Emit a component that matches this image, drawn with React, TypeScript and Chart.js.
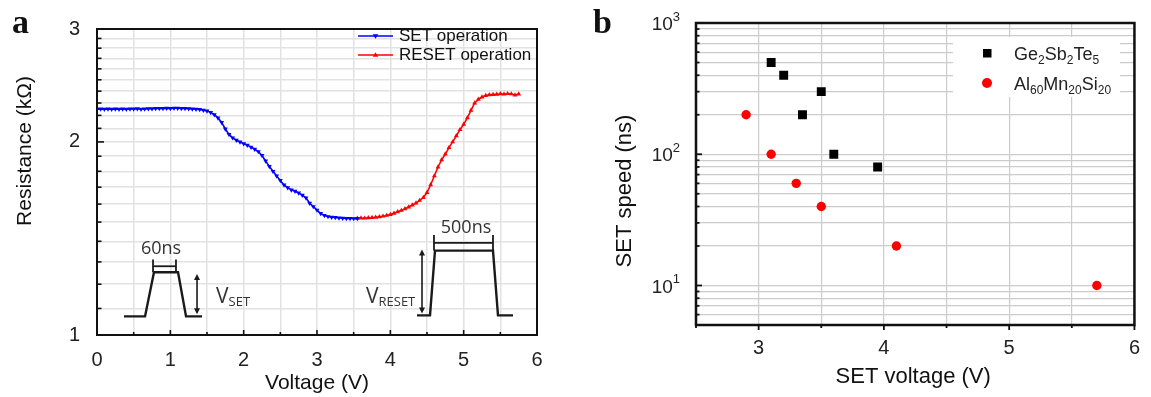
import React, { useEffect, useRef } from "react";
import { Chart, registerables } from "chart.js";

Chart.register(...registerables);

// ---------- Panel a data ----------
const setVoltage = [
  0.0, 0.05, 0.1, 0.15, 0.2, 0.25, 0.3, 0.35, 0.4, 0.45, 0.5, 0.55, 0.6, 0.65,
  0.7, 0.75, 0.8, 0.85, 0.9, 0.95, 1.0, 1.05, 1.1, 1.15,
  1.2, 1.25, 1.3, 1.35, 1.4, 1.45, 1.5, 1.55,
  1.6, 1.65, 1.7, 1.75, 1.8, 1.85, 1.9, 1.95,
  2.0, 2.05, 2.1, 2.15, 2.2, 2.25, 2.3, 2.35,
  2.4, 2.45, 2.5, 2.55, 2.6, 2.65, 2.7, 2.75,
  2.8, 2.85, 2.9, 2.95, 3.0, 3.05, 3.1, 3.15,
  3.2, 3.25, 3.3, 3.35, 3.4, 3.45, 3.5, 3.55,
];
const setResistance = [
  2.25, 2.252, 2.249, 2.251, 2.25, 2.252, 2.25, 2.251, 2.249, 2.252, 2.251, 2.253, 2.25, 2.252,
  2.254, 2.253, 2.255, 2.256, 2.255, 2.257, 2.256, 2.258, 2.257, 2.256,
  2.255, 2.254, 2.252, 2.25, 2.247, 2.242, 2.235, 2.224,
  2.205, 2.18, 2.145, 2.095, 2.055, 2.03, 2.012, 2.0,
  1.988, 1.977, 1.963, 1.948, 1.932, 1.905, 1.868, 1.832,
  1.8, 1.77, 1.742, 1.714, 1.697, 1.684, 1.676, 1.665,
  1.652, 1.636, 1.605, 1.586, 1.566, 1.547, 1.536, 1.53,
  1.527, 1.525, 1.523, 1.521, 1.52, 1.52, 1.519, 1.52,
];
const resetVoltage = [
  3.55, 3.6, 3.65, 3.7, 3.75, 3.8, 3.85, 3.9,
  3.95, 4.0, 4.05, 4.1, 4.15, 4.2, 4.25, 4.3,
  4.35, 4.4, 4.45, 4.5, 4.55, 4.6, 4.65, 4.7,
  4.75, 4.8, 4.85, 4.9, 4.95, 5.0, 5.05, 5.1,
  5.15, 5.2, 5.25, 5.3, 5.35, 5.4, 5.45, 5.5,
  5.55, 5.6, 5.65, 5.7, 5.75,
];
const resetResistance = [
  1.52, 1.522, 1.521, 1.523, 1.524, 1.526, 1.529, 1.532,
  1.536, 1.541, 1.548, 1.556, 1.564, 1.573, 1.583, 1.594,
  1.606, 1.621, 1.638, 1.668, 1.715, 1.77, 1.828, 1.875,
  1.915, 1.96, 2.0, 2.045, 2.09, 2.13, 2.18, 2.24,
  2.3, 2.33, 2.35, 2.362, 2.368, 2.37, 2.372, 2.377,
  2.374, 2.378, 2.376, 2.366, 2.375,
];
const aXTickLabels = [0, 1, 2, 3, 4, 5, 6];
const aYTickLabels = [1, 2, 3];

// ---------- Panel b data ----------
const gstVoltage = [3.1, 3.2, 3.35, 3.5, 3.6, 3.95];
const gstSpeed = [500, 400, 200, 300, 100, 80];
const amsVoltage = [2.9, 3.1, 3.3, 3.5, 4.1, 5.7];
const amsSpeed = [200, 100, 60, 40, 20, 10];
const bXTickLabels = [3, 4, 5, 6];
const bYTickLabels = [10, 100, 1000];

const FONT = '"Liberation Sans", Arial, sans-serif';
const INSET_FONT = '"Open Sans", "DejaVu Sans", sans-serif';

// grid positions (axis minor ticks)
const aXGrid: number[] = [];
for (let i = 0; i <= 12; i++) aXGrid.push(i / 2);
const aYGrid: number[] = [];
for (let i = 10; i <= 30; i++) aYGrid.push(i / 10);
const bXGrid: number[] = [];
for (let i = 5; i <= 12; i++) bXGrid.push(i / 2);
const bYGrid: number[] = [];
for (let e = 0; e < 3; e++) for (let m = 1; m < 10; m++) { const v = m * Math.pow(10, e); if (v >= 5) bYGrid.push(v); }
bYGrid.push(1000);

// inset pulse drawings, in axis units of panel a (decoration)
const setPulse = { v: [0.368, 0.655, 0.777, 1.105, 1.214, 1.432], r: [1.069, 1.069, 1.253, 1.253, 1.069, 1.069] };
const resetPulse = { v: [4.364, 4.541, 4.609, 5.4, 5.468, 5.673], r: [1.073, 1.073, 1.354, 1.354, 1.073, 1.073] };

function line(ctx: CanvasRenderingContext2D, x1: number, y1: number, x2: number, y2: number) {
  ctx.beginPath(); ctx.moveTo(x1, y1); ctx.lineTo(x2, y2); ctx.stroke();
}
function arrowHead(ctx: CanvasRenderingContext2D, x: number, y: number, up: boolean) {
  const d = up ? 1 : -1;
  ctx.beginPath(); ctx.moveTo(x, y); ctx.lineTo(x - 3, y + 6 * d); ctx.lineTo(x + 3, y + 6 * d); ctx.closePath(); ctx.fill();
}
function tri(ctx: CanvasRenderingContext2D, x: number, y: number, r: number, down: boolean) {
  ctx.beginPath();
  if (down) { ctx.moveTo(x - r, y - r * 0.6); ctx.lineTo(x + r, y - r * 0.6); ctx.lineTo(x, y + r); }
  else { ctx.moveTo(x - r, y + r * 0.6); ctx.lineTo(x + r, y + r * 0.6); ctx.lineTo(x, y - r); }
  ctx.closePath(); ctx.fill();
}
function subText(ctx: CanvasRenderingContext2D, parts: [string, boolean][], x: number, y: number, size: number, subSize: number, subDrop: number, family: string) {
  let cx = x;
  ctx.textAlign = "left"; ctx.textBaseline = "alphabetic";
  for (const [t, sub] of parts) {
    ctx.font = `${sub ? subSize : size}px ${family}`;
    ctx.fillText(t, cx, sub ? y + subDrop : y);
    cx += ctx.measureText(t).width;
  }
}

const decorA = {
  id: "decorA",
  afterDraw(chart: any) {
    const { ctx, chartArea: ca } = chart;
    const xs = chart.scales.x, ys = chart.scales.y;
    ctx.save();
    // frame
    ctx.strokeStyle = "#111"; ctx.lineWidth = 2;
    ctx.strokeRect(ca.left, ca.top, ca.right - ca.left, ca.bottom - ca.top);
    // inward ticks
    ctx.lineWidth = 1.6;
    for (const v of aYGrid) {
      const y = ys.getPixelForValue(v);
      const len = aYTickLabels.includes(v) ? 7 : 4.5;
      line(ctx, ca.left, y, ca.left + len, y);
    }
    for (const v of aXGrid) {
      const x = xs.getPixelForValue(v);
      const len = aXTickLabels.includes(v) ? 5 : 3;
      line(ctx, x, ca.bottom, x, ca.bottom - len);
    }
    // axis titles
    ctx.fillStyle = "#111";
    ctx.font = `21px ${FONT}`;
    ctx.textAlign = "center"; ctx.textBaseline = "middle";
    ctx.fillText("Voltage (V)", (ca.left + ca.right) / 2, 383);
    ctx.save(); ctx.translate(25, 151); ctx.rotate(-Math.PI / 2);
    ctx.fillText("Resistance (k\u03A9)", 0, 0); ctx.restore();
    // panel letter
    ctx.font = `bold 34px "Liberation Serif", "Times New Roman", serif`;
    ctx.textAlign = "left"; ctx.textBaseline = "alphabetic";
    ctx.fillText("a", 12, 33);
    // legend
    const leg = [["SET operation", "#0000ff", true, 36], ["RESET operation", "#ff0000", false, 55]] as const;
    for (const [label, col, down, ly] of leg) {
      ctx.strokeStyle = col; ctx.fillStyle = col; ctx.lineWidth = 1.5;
      line(ctx, 358, ly, 393, ly);
      tri(ctx, 375.5, ly, 2.8, down);
      ctx.fillStyle = "#111"; ctx.font = `17px ${FONT}`;
      ctx.textAlign = "left"; ctx.textBaseline = "middle";
      ctx.fillText(label, 399, ly);
    }
    // insets
    ctx.strokeStyle = "#1a1a1a"; ctx.fillStyle = "#1a1a1a"; ctx.lineWidth = 2.4;
    const px = (v: number) => xs.getPixelForValue(v);
    const py = (r: number) => ys.getPixelForValue(r);
    for (const p of [setPulse, resetPulse]) {
      ctx.beginPath();
      p.v.forEach((v, i) => { const X = px(v), Y = py(p.r[i]); if (i === 0) ctx.moveTo(X, Y); else ctx.lineTo(X, Y); });
      ctx.stroke();
    }
    ctx.lineWidth = 1.8;
    // 60ns bracket
    const s1 = px(0.764), s2 = px(1.077), sTop = py(1.311), sBot = py(1.253), sMid = py(1.28);
    line(ctx, s1, sTop, s1, sBot); line(ctx, s2, sTop, s2, sBot); line(ctx, s1, sMid, s2, sMid);
    // 500ns bracket
    const r1 = px(4.595), r2 = px(5.4), rTop = py(1.432), rBot = py(1.354), rMid = py(1.392);
    line(ctx, r1, rTop, r1, rBot); line(ctx, r2, rTop, r2, rBot); line(ctx, r1, rMid, r2, rMid);
    // arrows
    ctx.lineWidth = 1.6;
    const a1 = px(1.364);
    line(ctx, a1, py(1.245) + 4, a1, py(1.077) - 4);
    arrowHead(ctx, a1, py(1.245), true); arrowHead(ctx, a1, py(1.077), false);
    const a2 = px(4.432);
    line(ctx, a2, py(1.359) + 4, a2, py(1.08) - 4);
    arrowHead(ctx, a2, py(1.359), true); arrowHead(ctx, a2, py(1.08), false);
    // inset texts
    ctx.fillStyle = "#333";
    ctx.font = `18px ${INSET_FONT}`; ctx.textAlign = "center"; ctx.textBaseline = "middle";
    ctx.fillText("60ns", px(0.873), py(1.363));
    ctx.fillText("500ns", px(5.032), py(1.468));
    subText(ctx, [["V", false], ["SET", true]], px(1.623), py(1.151) + 7, 21, 13, 3, INSET_FONT);
    subText(ctx, [["V", false], ["RESET", true]], px(3.668), py(1.151) + 7, 21, 13, 3, INSET_FONT);
    ctx.restore();
  },
};

const decorB = {
  id: "decorB",
  afterDraw(chart: any) {
    const { ctx, chartArea: ca } = chart;
    const xs = chart.scales.x, ys = chart.scales.y;
    ctx.save();
    // legend box
    ctx.fillStyle = "#fff";
    ctx.fillRect(378, 37, 167, 60);
    ctx.fillStyle = "#000";
    ctx.fillRect(408, 49, 8.5, 8.5);
    ctx.fillStyle = "#ff0000";
    ctx.beginPath(); ctx.arc(412, 83, 5, 0, Math.PI * 2); ctx.fill();
    ctx.fillStyle = "#222";
    subText(ctx, [["Ge", false], ["2", true], ["Sb", false], ["2", true], ["Te", false], ["5", true]], 439, 60, 18, 12, 4, FONT);
    subText(ctx, [["Al", false], ["60", true], ["Mn", false], ["20", true], ["Si", false], ["20", true]], 439, 90, 18, 12, 4, FONT);
    // frame
    ctx.strokeStyle = "#111"; ctx.lineWidth = 2.5;
    ctx.strokeRect(ca.left, ca.top, ca.right - ca.left, ca.bottom - ca.top);
    // ticks
    ctx.lineWidth = 1.8;
    for (const v of bYGrid) {
      const y = ys.getPixelForValue(v);
      const len = bYTickLabels.includes(v) || v === 1000 ? 6 : 3.5;
      line(ctx, ca.left, y, ca.left + len, y);
    }
    for (const v of bXGrid) {
      const x = xs.getPixelForValue(v);
      const len = bXTickLabels.includes(v) ? 5 : 3;
      line(ctx, x, ca.bottom, x, ca.bottom + len);
    }
    // y tick labels 10^n
    ctx.fillStyle = "#222";
    for (const v of bYTickLabels) {
      const y = ys.getPixelForValue(v);
      const exp = String(Math.round(Math.log10(v)));
      ctx.font = `13px ${FONT}`; ctx.textAlign = "right"; ctx.textBaseline = "middle";
      const right = ca.left - 16;
      ctx.fillText(exp, right, y - 6);
      const ew = ctx.measureText(exp).width;
      ctx.font = `19px ${FONT}`;
      ctx.fillText("10", right - ew, y + 2);
    }
    // titles
    ctx.fillStyle = "#111";
    ctx.font = `22px ${FONT}`; ctx.textAlign = "center"; ctx.textBaseline = "middle";
    ctx.fillText("SET voltage (V)", (ca.left + ca.right) / 2 - 2, 377);
    ctx.save(); ctx.translate(50, 191); ctx.rotate(-Math.PI / 2);
    ctx.fillText("SET speed (ns)", 0, 0); ctx.restore();
    // panel letter
    ctx.font = `bold 34px "Liberation Serif", "Times New Roman", serif`;
    ctx.textAlign = "left"; ctx.textBaseline = "alphabetic";
    ctx.fillText("b", 18, 33);
    ctx.restore();
  },
};

export default function App() {
  const refA = useRef<HTMLCanvasElement>(null);
  const refB = useRef<HTMLCanvasElement>(null);

  useEffect(() => {
    const chartA = new Chart(refA.current as HTMLCanvasElement, {
      type: "scatter",
      data: {
        datasets: [
          {
            label: "SET operation",
            data: setVoltage.map((v, i) => ({ x: v, y: setResistance[i] })),
            showLine: true,
            borderColor: "#0000ff",
            backgroundColor: "#0000ff",
            borderWidth: 1.6,
            pointStyle: "triangle",
            pointRotation: 180,
            pointRadius: 2.8,
            pointBorderWidth: 0,
          },
          {
            label: "RESET operation",
            data: resetVoltage.map((v, i) => ({ x: v, y: resetResistance[i] })),
            showLine: true,
            borderColor: "#ff0000",
            backgroundColor: "#ff0000",
            borderWidth: 1.6,
            pointStyle: "triangle",
            pointRadius: 2.8,
            pointBorderWidth: 0,
          },
        ],
      },
      options: {
        animation: false,
        responsive: true,
        maintainAspectRatio: false,
        layout: { padding: { top: 23, right: 38, left: 0, bottom: 0 } },
        plugins: { legend: { display: false }, tooltip: { enabled: false } },
        scales: {
          x: {
            type: "linear",
            min: 0,
            max: 6,
            afterBuildTicks: (s: any) => { s.ticks = aXGrid.map((v) => ({ value: v })); },
            afterFit: (s: any) => { s.height = 62; },
            ticks: {
              autoSkip: false,
              maxRotation: 0,
              padding: 13,
              color: "#222",
              font: { family: FONT, size: 20 },
              callback: (v: any) => (aXTickLabels.includes(Number(v)) ? String(v) : ""),
            },
            grid: { color: "#e2e2e2", lineWidth: 1.5, drawTicks: false },
            border: { display: false },
          },
          y: {
            type: "logarithmic",
            min: 1,
            max: 3,
            afterBuildTicks: (s: any) => { s.ticks = aYGrid.map((v) => ({ value: v })); },
            afterFit: (s: any) => { s.width = 97; },
            ticks: {
              autoSkip: false,
              padding: 17,
              color: "#222",
              font: { family: FONT, size: 20 },
              callback: (v: any) => (aYTickLabels.includes(Math.round(Number(v) * 10) / 10) ? String(Math.round(Number(v))) : ""),
            },
            grid: { color: "#e2e2e2", lineWidth: 1.5, drawTicks: false },
            border: { display: false },
          },
        },
      } as any,
      plugins: [decorA],
    });

    const chartB = new Chart(refB.current as HTMLCanvasElement, {
      type: "scatter",
      data: {
        datasets: [
          {
            label: "Ge2Sb2Te5",
            data: gstVoltage.map((v, i) => ({ x: v, y: gstSpeed[i] })),
            backgroundColor: "#000",
            borderColor: "#000",
            pointStyle: "rect",
            pointRadius: 6.3,
            pointBorderWidth: 0,
          },
          {
            label: "Al60Mn20Si20",
            data: amsVoltage.map((v, i) => ({ x: v, y: amsSpeed[i] })),
            backgroundColor: "#ff0000",
            borderColor: "#ff0000",
            pointStyle: "circle",
            pointRadius: 4.7,
            pointBorderWidth: 0,
          },
        ],
      },
      options: {
        animation: false,
        responsive: true,
        maintainAspectRatio: false,
        layout: { padding: { top: 23, right: 8, left: 0, bottom: 0 } },
        plugins: { legend: { display: false }, tooltip: { enabled: false } },
        scales: {
          x: {
            type: "linear",
            min: 2.5,
            max: 6,
            afterBuildTicks: (s: any) => { s.ticks = bXGrid.map((v) => ({ value: v })); },
            afterFit: (s: any) => { s.height = 72; },
            ticks: {
              autoSkip: false,
              maxRotation: 0,
              padding: 11,
              color: "#222",
              font: { family: FONT, size: 20 },
              callback: (v: any) => (bXTickLabels.includes(Number(v)) ? String(v) : ""),
            },
            grid: { color: "#cccccc", lineWidth: 1.2, drawTicks: false },
            border: { display: false },
          },
          y: {
            type: "logarithmic",
            min: 5,
            max: 1000,
            afterBuildTicks: (s: any) => { s.ticks = bYGrid.map((v) => ({ value: v })); },
            afterFit: (s: any) => { s.width = 121; },
            ticks: { display: false, autoSkip: false },
            grid: { color: "#cccccc", lineWidth: 1.2, drawTicks: false },
            border: { display: false },
          },
        },
      } as any,
      plugins: [decorB],
    });

    return () => {
      chartA.destroy();
      chartB.destroy();
    };
  }, []);

  return (
    <div style={{ position: "fixed", left: 0, top: 0, width: 1151, height: 397, background: "#fff" }}>
      <div style={{ position: "absolute", left: 0, top: 0, width: 575, height: 397 }}>
        <canvas ref={refA} />
      </div>
      <div style={{ position: "absolute", left: 575, top: 0, width: 576, height: 397 }}>
        <canvas ref={refB} />
      </div>
    </div>
  );
}
